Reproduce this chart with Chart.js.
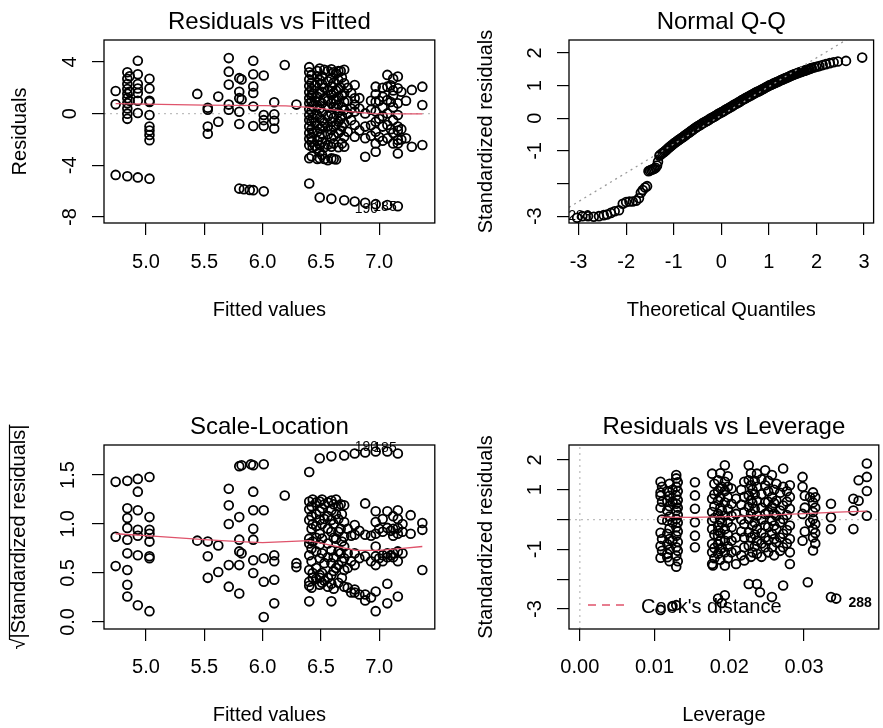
<!DOCTYPE html>
<html>
<head>
  <meta charset="utf-8">
  <title>Diagnostic plots</title>
  <style>
    html, body { margin: 0; padding: 0; background: #fff; overflow: hidden; }
    #wrap { position: relative; width: 883px; height: 728px; overflow: hidden; }
    canvas { position: absolute; }
  </style>
</head>
<body>
<div id="wrap">
  <canvas id="rvf" width="441" height="364" style="left:0;top:0"></canvas>
  <canvas id="qq" width="444" height="364" style="left:441px;top:0"></canvas>
  <canvas id="sl" width="441" height="364" style="left:0;top:364px"></canvas>
  <canvas id="rvl" width="444" height="364" style="left:441px;top:364px"></canvas>
</div>

<script src="https://cdn.jsdelivr.net/npm/chart.js"></script>
<script>
// ---- data ----
// Residuals vs Fitted: [fitted, residual]
const rvfPoints = [
  [4.74,1.75],[4.74,0.72],[4.74,-4.74],
  [4.84,3.2],[4.84,2.7],[4.84,2.3],[4.84,1.9],[4.84,1.55],[4.84,1.2],[4.84,0.8],[4.84,0.4],[4.84,0.0],[4.84,-0.4],[4.84,-4.84],
  [4.86,2.9],[4.86,1.7],[4.86,1.0],
  [4.93,4.1],[4.93,3.05],[4.93,2.3],[4.93,1.95],[4.93,1.6],[4.93,1.0],[4.93,0.05],[4.93,-4.93],
  [5.03,2.7],[5.03,1.95],[5.03,1.0],[5.03,0.9],[5.03,-0.1],[5.03,-1.0],[5.03,-1.3],[5.03,-1.65],[5.03,-2.05],[5.03,-5.03],
  [5.44,1.53],[5.53,0.46],[5.53,0.3],[5.53,-1.0],[5.53,-1.55],[5.62,1.32],[5.62,-0.62],
  [5.71,4.3],[5.71,3.25],[5.71,2.25],[5.71,0.7],[5.71,0.3],
  [5.80,2.75],[5.80,1.7],[5.80,1.2],[5.80,0.15],[5.80,-0.8],[5.80,-5.8],[5.82,2.65],[5.82,1.1],[5.84,-5.85],
  [5.92,4.1],[5.92,3.05],[5.92,2.1],[5.92,1.6],[5.92,0.55],[5.92,-0.95],[5.92,-5.92],[5.89,-5.9],
  [6.01,2.95],[6.01,-0.1],[6.01,-0.5],[6.01,-0.95],[6.01,-6.01],
  [6.10,0.88],[6.10,-0.05],[6.10,-0.55],[6.10,-1.15],
  [6.19,3.77],[6.29,0.7],
  [6.40,3.6],[6.40,3.2],[6.40,2.65],[6.40,2.15],[6.40,1.65],[6.40,1.2],[6.40,0.8],[6.40,0.35],[6.40,-0.1],[6.40,-0.5],[6.40,-1.0],[6.40,-1.5],[6.40,-1.95],[6.40,-2.45],[6.40,-3.45],[6.40,-5.4],
  [6.42,3.0],[6.42,2.4],[6.42,1.9],[6.42,1.4],[6.42,0.9],[6.42,0.2],[6.42,-0.6],[6.42,-1.2],[6.42,-1.8],[6.42,-2.2],[6.42,-3.3],
  [6.43,1.55],[6.43,0.6],[6.43,-0.3],[6.43,-1.45],[6.43,-2.6],
  [6.45,2.2],[6.45,-0.7],[6.45,-2.5],[6.45,1.0],
  [6.47,3.3],[6.47,2.9],[6.47,2.4],[6.47,1.3],[6.47,0.6],[6.47,-0.1],[6.47,-0.9],[6.47,-1.4],[6.47,-2.1],[6.47,-2.7],[6.47,-3.5],
  [6.49,3.5],[6.49,2.6],[6.49,1.55],[6.49,0.95],[6.49,0.4],[6.49,-0.35],[6.49,-1.15],[6.49,-1.8],[6.49,-2.45],[6.49,-2.95],[6.49,-3.45],[6.49,-6.49],
  [6.51,2.9],[6.51,2.3],[6.51,1.7],[6.51,0.8],[6.51,0.1],[6.51,-0.5],[6.51,-1.0],[6.51,-1.6],[6.51,-2.2],[6.51,-3.2],
  [6.53,3.4],[6.53,2.0],[6.53,1.2],[6.53,-0.7],[6.53,-2.6],[6.53,-3.5],
  [6.56,3.3],[6.56,2.5],[6.56,1.8],[6.56,1.0],[6.56,0.5],[6.56,-0.2],[6.56,-1.0],[6.56,-1.6],[6.56,-2.4],[6.56,-3.6],
  [6.59,3.43],[6.59,2.74],[6.59,2.09],[6.59,1.45],[6.59,0.8],[6.59,0.02],[6.59,-0.62],[6.59,-1.26],[6.59,-1.91],[6.59,-2.56],[6.59,-3.46],[6.59,-6.59],
  [6.61,3.2],[6.61,2.4],[6.61,1.6],[6.61,1.1],[6.61,0.5],[6.61,-0.3],[6.61,-1.0],[6.61,-1.7],[6.61,-2.3],[6.61,-3.5],
  [6.63,3.1],[6.63,1.8],[6.63,1.1],[6.63,0.4],[6.63,-0.9],[6.63,-3.55],
  [6.65,3.3],[6.65,2.6],[6.65,1.9],[6.65,1.3],[6.65,0.7],[6.65,0.1],[6.65,-0.6],[6.65,-1.5],[6.65,-2.6],
  [6.67,3.3],[6.67,2.0],[6.67,-0.4],[6.67,-1.3],
  [6.68,2.8],[6.68,1.4],[6.68,0.5],[6.68,-0.2],[6.68,-1.0],[6.68,-2.3],
  [6.70,3.39],[6.70,2.35],[6.70,1.6],[6.70,0.93],[6.70,0.29],[6.70,-0.75],[6.70,-1.78],[6.70,-2.56],[6.70,-6.7],
  [6.73,2.0],[6.73,1.0],[6.73,0.0],[6.73,-1.4],
  [6.76,1.6],[6.76,0.4],[6.76,-0.5],
  [6.79,2.22],[6.79,1.19],[6.79,0.7],[6.79,0.16],[6.79,-0.88],[6.79,-1.78],[6.79,-6.8],
  [6.83,1.2],[6.83,0.4],[6.83,-1.3],
  [6.88,0.02],[6.88,-1.0],[6.88,-1.9],[6.88,-3.33],[6.88,-6.9],
  [6.93,1.0],[6.93,0.3],[6.93,-0.9],[6.93,-1.7],
  [6.97,2.09],[6.97,1.5],[6.97,0.93],[6.97,0.16],[6.97,-0.62],[6.97,-1.4],[6.97,-2.3],[6.97,-2.95],[6.97,-7.0],
  [7.0,1.0],[7.0,-0.4],[7.0,-1.8],
  [7.03,2.0],[7.03,1.3],[7.03,0.5],[7.03,-0.2],[7.03,-1.0],[7.03,-2.1],
  [7.07,3.0],[7.07,2.09],[7.07,1.06],[7.07,0.02],[7.07,-0.88],[7.07,-1.91],[7.07,-7.07],
  [7.10,2.2],[7.10,0.9],[7.10,-1.2],
  [7.12,2.7],[7.12,1.8],[7.12,1.4],[7.12,0.5],[7.12,-0.5],[7.12,-1.5],[7.12,-2.3],
  [7.16,2.87],[7.16,1.96],[7.16,0.8],[7.16,-0.1],[7.16,-1.0],[7.16,-1.3],[7.16,-2.04],[7.16,-2.3],[7.16,-3.08],[7.16,-7.16],
  [7.19,1.7],[7.19,-1.2],[7.19,-2.0],[7.23,1.0],[7.23,-1.9],
  [7.28,1.84],[7.28,-2.56],[7.37,2.09],[7.37,0.67],[7.37,-2.43]
];
const rvfSmooth = [[4.74,0.78],[5.0,0.74],[5.5,0.66],[6.0,0.62],[6.2,0.6],[6.4,0.48],[6.6,0.3],[6.8,0.12],[6.95,0.0],[7.2,-0.02],[7.37,-0.02]];
const rvfZero = [[4.64,0],[7.48,0]];
const rvfIds = [[6.89,-7.36,'190'],[7.05,-7.22,'185']];

// Normal Q-Q: [theoretical quantile, standardized residual]
const qqPoints = [
  [-3.03,-3.05],[-2.92,-3.0],[-2.80,-3.0],[-2.68,-3.02],[-2.57,-3.0],[-2.47,-2.97],[-2.40,-2.95],[-2.32,-2.9],
  [-2.24,-2.85],[-2.15,-2.82],[-2.07,-2.62],[-2.00,-2.57],[-1.93,-2.55],[-1.86,-2.55],[-1.79,-2.53],[-1.73,-2.45],
  [-1.69,-2.28],[-1.65,-2.2],[-1.60,-2.12],[-1.56,-2.08],[-1.53,-1.62],[-1.50,-1.60],[-1.47,-1.58],[-1.44,-1.56],
  [-1.41,-1.55],[-1.38,-1.52],[-1.35,-1.45],[-1.33,-1.33],
  [-1.30,-1.15],[-1.28,-1.12],[-1.25,-1.09],[-1.23,-1.06],[-1.20,-1.03],[-1.18,-1.00],[-1.15,-0.97],[-1.13,-0.93],
  [-1.10,-0.90],[-1.08,-0.87],[-1.05,-0.84],[-1.03,-0.81],[-1.00,-0.78],[-0.98,-0.75],[-0.95,-0.73],[-0.93,-0.70],
  [-0.90,-0.67],[-0.88,-0.65],[-0.85,-0.62],[-0.83,-0.60],[-0.80,-0.57],[-0.78,-0.54],[-0.75,-0.52],[-0.73,-0.49],
  [-0.70,-0.46],[-0.68,-0.44],[-0.65,-0.41],[-0.63,-0.38],[-0.60,-0.36],[-0.58,-0.33],[-0.55,-0.30],[-0.53,-0.28],
  [-0.50,-0.25],[-0.48,-0.23],[-0.45,-0.21],[-0.43,-0.19],[-0.40,-0.16],[-0.38,-0.14],[-0.35,-0.12],[-0.33,-0.10],
  [-0.30,-0.08],[-0.28,-0.06],[-0.25,-0.04],[-0.23,-0.01],[-0.20,0.01],[-0.18,0.03],[-0.15,0.05],[-0.13,0.07],
  [-0.10,0.09],[-0.08,0.12],[-0.05,0.14],[-0.03,0.16],[0.00,0.18],[0.03,0.20],[0.05,0.22],[0.08,0.25],
  [0.10,0.27],[0.13,0.29],[0.15,0.31],[0.18,0.33],[0.20,0.35],[0.23,0.37],[0.25,0.40],[0.28,0.42],
  [0.30,0.44],[0.33,0.46],[0.35,0.48],[0.38,0.50],[0.40,0.52],[0.43,0.55],[0.45,0.57],[0.48,0.59],
  [0.50,0.61],[0.53,0.63],[0.55,0.65],[0.58,0.67],[0.60,0.69],[0.63,0.71],[0.65,0.73],[0.68,0.75],
  [0.70,0.77],[0.73,0.79],[0.75,0.81],[0.78,0.82],[0.80,0.84],[0.83,0.86],[0.85,0.88],[0.88,0.90],
  [0.90,0.92],[0.93,0.94],[0.95,0.96],[0.98,0.98],[1.00,1.00],[1.03,1.02],[1.05,1.03],[1.08,1.05],
  [1.10,1.07],[1.13,1.08],[1.15,1.10],[1.18,1.12],[1.20,1.13],[1.23,1.15],[1.25,1.17],[1.28,1.18],
  [1.30,1.20],[1.33,1.22],[1.35,1.23],[1.38,1.25],[1.40,1.26],[1.43,1.28],[1.45,1.30],[1.48,1.31],
  [1.50,1.33],[1.53,1.34],[1.55,1.36],[1.58,1.37],[1.60,1.38],[1.63,1.40],[1.65,1.41],[1.68,1.42],
  [1.70,1.44],[1.73,1.45],[1.75,1.46],[1.78,1.47],[1.80,1.49],[1.83,1.50],[1.85,1.51],[1.88,1.53],
  [1.90,1.54],[1.95,1.56],[2.00,1.58],[2.06,1.60],[2.13,1.63],[2.20,1.66],[2.28,1.69],[2.36,1.72],
  [2.45,1.74],[2.62,1.76],[2.96,1.86]
];
const qqLine = [[-3.2,-2.73],[3.2,2.91]];
const qqIds = [[-2.97,-3.0,'283']];

// Scale-Location: [fitted, sqrt|standardized residual|]
const slPoints = [
  [4.74,1.43],[4.74,0.87],[4.74,0.57],
  [4.84,1.44],[4.84,1.16],[4.84,1.06],[4.84,0.96],[4.84,0.84],[4.84,0.70],[4.84,0.53],[4.84,0.38],[4.84,0.26],
  [4.93,1.46],[4.93,1.33],[4.93,1.14],[4.93,0.94],[4.93,0.88],[4.93,0.68],[4.93,0.17],
  [5.03,1.48],[5.03,1.07],[5.03,0.94],[5.03,0.90],[5.03,0.82],[5.03,0.67],[5.03,0.65],[5.03,0.11],
  [5.44,0.83],[5.53,0.82],[5.53,0.67],[5.53,0.45],[5.62,0.78],[5.62,0.51],
  [5.71,1.36],[5.71,1.19],[5.71,1.0],[5.71,0.58],[5.71,0.36],
  [5.80,1.59],[5.80,1.07],[5.80,0.84],[5.80,0.72],[5.80,0.58],[5.80,0.29],[5.82,1.60],[5.82,0.70],
  [5.92,1.60],[5.90,1.61],[5.92,1.33],[5.92,1.14],[5.92,0.95],[5.92,0.84],[5.92,0.63],[5.92,0.50],
  [6.01,1.61],[6.01,1.14],[6.01,0.65],[6.01,0.41],[6.01,0.05],
  [6.10,0.68],[6.10,0.62],[6.10,0.43],[6.10,0.19],
  [6.19,1.29],[6.29,0.60],[6.29,0.56],
  [6.40,1.53],[6.40,1.23],[6.40,1.15],[6.40,1.04],[6.40,0.85],[6.40,0.80],[6.40,0.68],[6.40,0.53],[6.40,0.41],[6.40,0.37],[6.40,0.21],
  [6.42,1.18],[6.42,1.08],[6.42,0.95],[6.42,0.75],[6.42,0.62],[6.42,0.35],
  [6.43,1.25],[6.43,1.0],[6.43,0.82],[6.43,0.5],[6.43,0.45],
  [6.46,1.22],[6.46,1.10],[6.46,0.98],[6.46,0.86],[6.46,0.72],[6.46,0.55],[6.46,0.44],
  [6.49,1.67],[6.49,1.23],[6.49,1.13],[6.49,1.04],[6.49,0.90],[6.49,0.79],[6.49,0.65],[6.49,0.48],[6.49,0.45],[6.49,0.38],
  [6.51,1.25],[6.51,1.16],[6.51,1.00],[6.51,0.85],[6.51,0.70],[6.51,0.50],[6.51,0.40],
  [6.53,1.2],[6.53,1.05],[6.53,0.6],[6.53,0.42],
  [6.56,1.22],[6.56,1.08],[6.56,0.95],[6.56,0.80],[6.56,0.66],[6.56,0.45],[6.56,0.36],
  [6.59,1.69],[6.59,1.24],[6.59,1.14],[6.59,1.04],[6.59,0.92],[6.59,0.73],[6.59,0.60],[6.59,0.48],[6.59,0.39],[6.59,0.21],
  [6.61,1.20],[6.61,1.0],[6.61,0.86],[6.61,0.66],[6.61,0.52],[6.61,0.34],
  [6.63,1.25],[6.63,1.1],[6.63,0.85],[6.63,0.55],
  [6.65,1.18],[6.65,1.05],[6.65,0.92],[6.65,0.72],[6.65,0.58],[6.65,0.40],
  [6.67,1.2],[6.67,0.95],[6.67,0.7],
  [6.68,1.1],[6.68,0.82],[6.68,0.62],[6.68,0.45],
  [6.70,1.70],[6.70,1.19],[6.70,1.02],[6.70,0.87],[6.70,0.77],[6.70,0.65],[6.70,0.53],[6.70,0.36],
  [6.73,0.95],[6.73,0.70],[6.73,0.55],[6.73,0.35],
  [6.76,0.88],[6.76,0.62],[6.76,0.30],
  [6.79,1.72],[6.79,0.99],[6.79,0.89],[6.79,0.70],[6.79,0.58],[6.79,0.33],[6.79,0.30],
  [6.83,0.93],[6.83,0.65],[6.83,0.28],
  [6.88,1.73],[6.88,1.21],[6.88,0.89],[6.88,0.67],[6.88,0.28],[6.88,0.22],
  [6.93,0.88],[6.93,0.62],[6.93,0.25],
  [6.97,1.74],[6.97,1.13],[6.97,1.02],[6.97,0.90],[6.97,0.77],[6.97,0.67],[6.97,0.58],[6.97,0.31],[6.97,0.11],
  [7.0,0.95],[7.0,0.65],
  [7.03,1.05],[7.03,0.92],[7.03,0.68],[7.03,0.62],
  [7.07,1.74],[7.07,1.13],[7.07,0.96],[7.07,0.70],[7.07,0.66],[7.07,0.39],[7.07,0.19],
  [7.10,0.93],[7.10,0.68],
  [7.12,1.08],[7.12,0.95],[7.12,0.88],[7.12,0.70],[7.12,0.66],
  [7.16,1.72],[7.16,1.14],[7.16,1.05],[7.16,0.96],[7.16,0.90],[7.16,0.72],[7.16,0.62],[7.16,0.26],
  [7.20,1.0],[7.20,0.92],[7.20,0.70],
  [7.27,1.09],[7.27,0.90],[7.37,1.01],[7.37,0.94],[7.37,0.53]
];
const slSmooth = [[4.74,0.9],[5.0,0.88],[5.5,0.84],[5.8,0.82],[6.0,0.81],[6.2,0.82],[6.4,0.83],[6.6,0.78],[6.8,0.73],[7.0,0.73],[7.2,0.75],[7.37,0.77]];
const slIds = [[6.89,1.78,'190'],[7.05,1.77,'185']];

// Residuals vs Leverage: [leverage, standardized residual]
const rvlPoints = [
  [0.0108,1.27],[0.0108,0.91],[0.0108,0.80],[0.0108,0.40],[0.0108,-0.44],[0.0108,-0.89],[0.0108,-1.28],[0.0108,-3.03],
  [0.0110,1.1],[0.0110,0.6],[0.0110,0.0],[0.0110,-0.65],[0.0110,-1.05],
  [0.0117,0.96],[0.0117,0.63],[0.0117,0.30],[0.0117,-0.04],[0.0117,-0.48],[0.0117,-0.82],[0.0117,-1.15],[0.0117,-1.26],
  [0.0120,1.2],[0.0120,0.8],[0.0120,0.45],[0.0120,0.1],[0.0120,-0.3],[0.0120,-0.65],[0.0120,-1.0],[0.0120,-1.4],
  [0.0124,1.0],[0.0124,0.6],[0.0124,-0.1],[0.0124,-0.7],[0.0124,-2.9],
  [0.0129,1.49],[0.0129,1.38],[0.0129,1.10],[0.0129,0.81],[0.0129,0.53],[0.0129,0.30],[0.0129,0.02],[0.0129,-0.26],
  [0.0129,-0.54],[0.0129,-0.93],[0.0129,-1.21],[0.0129,-1.58],[0.0129,-2.87],
  [0.0131,1.25],[0.0131,0.95],[0.0131,0.65],[0.0131,0.4],[0.0131,0.15],[0.0131,-0.1],[0.0131,-0.4],[0.0131,-0.75],[0.0131,-1.05],[0.0131,-1.4],
  [0.0154,1.25],[0.0154,0.81],[0.0154,0.36],[0.0154,-0.09],[0.0154,-0.54],[0.0154,-0.93],
  [0.0177,1.54],[0.0177,0.70],[0.0177,0.25],[0.0177,-0.04],[0.0177,-0.32],[0.0177,-0.82],[0.0177,-1.10],[0.0177,-1.49],[0.0178,-1.54],
  [0.0180,1.2],[0.0180,0.85],[0.0180,0.45],[0.0180,0.05],[0.0180,-0.5],[0.0180,-0.95],[0.0180,-1.3],
  [0.0185,1.32],[0.0185,0.96],[0.0185,0.63],[0.0185,0.19],[0.0185,-0.20],[0.0185,-0.37],[0.0185,-0.54],[0.0185,-0.82],[0.0185,-1.15],[0.0185,-2.65],
  [0.0188,1.55],[0.0188,1.05],[0.0188,0.75],[0.0188,0.4],[0.0188,0.0],[0.0188,-0.45],[0.0188,-0.7],[0.0188,-1.0],[0.0188,-1.35],
  [0.0190,1.1],[0.0190,0.3],[0.0190,-0.1],[0.0190,-0.95],[0.0190,-2.8],
  [0.0194,1.82],[0.0194,1.27],[0.0194,0.96],[0.0194,0.57],[0.0194,0.13],[0.0194,-0.32],[0.0194,-0.71],[0.0194,-1.10],[0.0194,-1.54],[0.0194,-2.54],
  [0.0198,1.45],[0.0198,1.1],[0.0198,0.75],[0.0198,0.35],[0.0198,-0.1],[0.0198,-0.5],[0.0198,-0.9],[0.0198,-1.3],
  [0.0203,1.04],[0.0203,0.53],[0.0203,0.13],[0.0203,-0.26],[0.0203,-0.71],[0.0203,-1.10],
  [0.0209,0.70],[0.0209,0.19],[0.0209,-0.60],[0.0209,-1.04],[0.0209,-1.49],
  [0.0216,1.0],[0.0216,0.5],[0.0216,0.0],[0.0216,-0.4],[0.0216,-1.2],
  [0.0220,1.27],[0.0220,0.76],[0.0220,0.25],[0.0220,-0.15],[0.0220,-0.60],[0.0220,-0.93],[0.0220,-1.37],
  [0.0226,1.82],[0.0226,1.32],[0.0226,0.81],[0.0226,0.42],[0.0226,0.02],[0.0226,-0.43],[0.0226,-0.88],[0.0226,-2.16],
  [0.0229,1.55],[0.0229,1.15],[0.0229,0.65],[0.0229,0.2],[0.0229,-0.6],[0.0229,-1.25],
  [0.0231,1.0],[0.0231,0.55],[0.0231,-0.2],[0.0231,-1.1],
  [0.0234,1.3],[0.0234,0.85],[0.0234,0.35],[0.0234,-0.1],[0.0234,-0.5],[0.0234,-0.9],
  [0.0237,1.54],[0.0237,1.10],[0.0237,0.63],[0.0237,0.13],[0.0237,-0.32],[0.0237,-0.71],[0.0237,-1.15],[0.0237,-2.16],[0.0241,-2.44],
  [0.0243,1.35],[0.0243,0.85],[0.0243,0.4],[0.0243,0.0],[0.0243,-0.45],[0.0243,-0.8],[0.0243,-1.25],
  [0.0248,1.65],[0.0248,1.15],[0.0248,0.57],[0.0248,0.19],[0.0248,-0.20],[0.0248,-0.60],[0.0248,-0.93],
  [0.0252,1.3],[0.0252,0.95],[0.0252,0.6],[0.0252,0.25],[0.0252,-0.25],[0.0252,-0.7],[0.0252,-1.1],
  [0.0257,1.49],[0.0257,0.76],[0.0257,0.42],[0.0257,-0.04],[0.0257,-0.48],[0.0257,-0.93],[0.0257,-2.60],
  [0.0260,1.0],[0.0260,0.55],[0.0260,0.2],[0.0260,-0.2],[0.0260,-0.65],[0.0260,-1.2],
  [0.0263,1.20],[0.0263,0.63],[0.0263,0.13],[0.0263,-0.32],[0.0263,-0.76],
  [0.0268,0.9],[0.0268,0.3],[0.0268,-0.1],[0.0268,-0.6],[0.0268,-1.05],
  [0.0272,1.71],[0.0272,1.10],[0.0272,0.47],[0.0272,0.02],[0.0272,-0.48],[0.0272,-0.93],[0.0272,-2.21],
  [0.0277,0.95],[0.0277,0.6],[0.0277,0.15],[0.0277,-0.35],[0.0277,-0.8],
  [0.0281,1.15],[0.0281,0.76],[0.0281,0.36],[0.0281,-0.20],[0.0281,-0.65],[0.0281,-1.10],[0.0281,-1.49],
  [0.0298,1.43],[0.0298,1.10],[0.0298,0.19],[0.0298,-0.71],[0.0305,-2.10],
  [0.0301,0.8],[0.0301,0.4],[0.0301,-0.4],
  [0.0308,0.75],[0.0308,-0.1],
  [0.0312,0.91],[0.0312,0.57],[0.0312,0.25],[0.0312,0.02],[0.0312,-0.32],[0.0312,-0.60],[0.0312,-1.04],
  [0.0315,0.75],[0.0315,0.4],[0.0315,-0.15],[0.0315,-0.45],[0.0315,-0.8],
  [0.0336,0.53],[0.0336,0.08],[0.0336,-0.32],[0.0336,-2.60],[0.0343,-2.65],
  [0.0366,0.70],[0.0366,0.30],[0.0366,-0.32],[0.0373,1.32],[0.0373,0.63],
  [0.0384,1.88],[0.0384,1.43],[0.0384,0.96],[0.0384,0.13]
];
const rvlSmooth = [[0.0108,0.08],[0.015,0.07],[0.02,0.1],[0.025,0.15],[0.03,0.2],[0.0345,0.25],[0.0384,0.28]];
const rvlZeroH = [[-0.00145,0],[0.04,0]];
const rvlZeroV = [[0,-3.67],[0,2.5]];
const rvlIds = [[0.0375,-2.79,'288']];

// tick values
const fittedTicks = [5.0, 5.5, 6.0, 6.5, 7.0];
const residTicks = [-8, -4, 0, 4];
const qqXTicks = [-3, -2, -1, 0, 1, 2, 3];
const stdTicks = [-3, -2, -1, 0, 1, 2];
const qqHidden = [-2];
const slTicks = [0, 0.5, 1, 1.5];
const levTicks = [0, 0.01, 0.02, 0.03];
const rvlHidden = [0, -2];

// ---- drawing ----
const FONT = '"Liberation Sans", Arial, Helvetica, sans-serif';
const RED = '#DF536B';
const GREY = '#BEBEBE';

const toXY = arr => arr.map(p => ({ x: p[0], y: p[1] }));

function circles(arr) {
  return {
    data: toXY(arr), showLine: false, order: 2,
    pointRadius: 4.4, pointBorderWidth: 1.8,
    pointBorderColor: '#000', pointBackgroundColor: 'rgba(0,0,0,0)'
  };
}
function curve(arr, color, dash, order) {
  return {
    data: toXY(arr), showLine: true, order: order,
    borderColor: color, borderWidth: 1.3, borderDash: dash,
    pointRadius: 0, fill: false, tension: 0
  };
}

// box around the plot region, point ids, Cook's legend
const decor = {
  id: 'decor',
  afterDatasetsDraw(chart, args, opts) {
    const { ctx, chartArea: a, scales } = chart;
    ctx.save();
    ctx.strokeStyle = '#000';
    ctx.lineWidth = 1.3;
    ctx.strokeRect(a.left, a.top, a.right - a.left, a.bottom - a.top);
    ctx.fillStyle = '#000';
    ctx.textAlign = 'center';
    ctx.textBaseline = 'middle';
    (opts.ids || []).forEach(l => {
      ctx.font = (opts.boldIds ? 'bold ' : '') + '14px ' + FONT;
      ctx.fillText(l[2], scales.x.getPixelForValue(l[0]), scales.y.getPixelForValue(l[1]));
    });
    if (opts.cooks) {
      ctx.strokeStyle = RED;
      ctx.lineWidth = 1.3;
      ctx.setLineDash([8, 6]);
      ctx.beginPath();
      ctx.moveTo(a.left + 19, a.bottom - 24);
      ctx.lineTo(a.left + 57, a.bottom - 24);
      ctx.stroke();
      ctx.setLineDash([]);
      ctx.font = '20px ' + FONT;
      ctx.textAlign = 'left';
      ctx.fillText("Cook's distance", a.left + 72, a.bottom - 22);
    }
    if (opts.overline) {
      // bar of the square root sign over the rotated axis title
      ctx.font = '20px ' + FONT;
      const full = ctx.measureText(scales.y.options.title.text).width;
      const root = ctx.measureText('\u221A').width;
      const cy = (a.top + a.bottom) / 2;
      const cx = scales.y.left + 12 + scales.y.options.title.padding.top;
      ctx.strokeStyle = '#000';
      ctx.lineWidth = 1.2;
      ctx.beginPath();
      ctx.moveTo(cx - 9.5, cy + full / 2 - root + 1);
      ctx.lineTo(cx - 9.5, cy - full / 2);
      ctx.stroke();
    }
    ctx.restore();
  }
};

function panel(id, c) {
  const f20 = { family: FONT, size: 20 };
  const axisGrid = { drawOnChartArea: false, color: '#000', lineWidth: 1.2, tickLength: 12 };
  return new Chart(document.getElementById(id), {
    type: 'scatter',
    data: { datasets: c.datasets },
    options: {
      responsive: false,
      animation: false,
      events: [],
      layout: { padding: 0 },
      plugins: {
        legend: { display: false },
        tooltip: { enabled: false },
        title: {
          display: true, text: c.title, fullSize: false, color: '#000',
          font: { family: FONT, size: 24, weight: 'normal' },
          padding: { top: c.titleTop, bottom: 3.6 }
        },
        decor: c.decor || {}
      },
      scales: {
        x: {
          type: 'linear', min: c.xMin, max: c.xMax,
          afterBuildTicks: s => { s.ticks = c.xTicks.map(v => ({ value: v })); },
          afterFit: s => { s.height = c.xAxisH; },
          grid: axisGrid,
          border: { display: false },
          ticks: { color: '#000', font: f20, padding: c.xTickPad, maxRotation: 0, autoSkip: false, callback: c.xFmt },
          title: { display: true, text: c.xTitle, color: '#000', font: f20, padding: { top: 0, bottom: c.xTitlePad } }
        },
        y: {
          type: 'linear', min: c.yMin, max: c.yMax,
          afterBuildTicks: s => { s.ticks = c.yTicks.map(v => ({ value: v })); },
          afterFit: s => { s.width = c.yAxisW; },
          grid: axisGrid,
          border: { display: false },
          ticks: {
            color: '#000', font: f20, padding: c.yTickPad, minRotation: 90, maxRotation: 90,
            crossAlign: 'center', autoSkip: false, callback: c.yFmt
          },
          title: { display: true, text: c.yTitle, color: '#000', font: f20, padding: { top: c.yTitlePad, bottom: 0 } }
        }
      }
    },
    plugins: [decor]
  });
}

const oneDec = v => v.toFixed(1);
const intLab = hidden => v => hidden.includes(v) ? '' : String(v);

panel('rvf', {
  title: 'Residuals vs Fitted', titleTop: 7.6,
  datasets: [curve(rvfSmooth, RED, [], 0), circles(rvfPoints), curve(rvfZero, GREY, [2, 4], 3)],
  xMin: 4.64, xMax: 7.477, xTicks: fittedTicks, xFmt: oneDec, xAxisH: 141, xTickPad: 15,
  xTitle: 'Fitted values', xTitlePad: 42,
  yMin: -8.46, yMax: 5.70, yTicks: residTicks, yFmt: intLab([]), yAxisW: 104, yTickPad: 13,
  yTitle: 'Residuals', yTitlePad: 8,
  decor: { ids: rvfIds }
});

panel('qq', {
  title: 'Normal Q-Q', titleTop: 7.6,
  datasets: [curve(qqLine, '#9a9a9a', [2, 4], 0), circles(qqPoints)],
  xMin: -3.2, xMax: 3.2, xTicks: qqXTicks, xFmt: v => String(v), xAxisH: 141, xTickPad: 15,
  xTitle: 'Theoretical Quantiles', xTitlePad: 42,
  yMin: -3.21, yMax: 2.40, yTicks: stdTicks, yFmt: intLab(qqHidden), yAxisW: 128, yTickPad: 13,
  yTitle: 'Standardized residuals', yTitlePad: 33,
  decor: { ids: qqIds }
});

panel('sl', {
  title: 'Scale-Location', titleTop: 48.6,
  datasets: [curve(slSmooth, RED, [], 0), circles(slPoints)],
  xMin: 4.64, xMax: 7.477, xTicks: fittedTicks, xFmt: oneDec, xAxisH: 99, xTickPad: 14,
  xTitle: 'Fitted values', xTitlePad: 1,
  yMin: -0.072, yMax: 1.806, yTicks: slTicks, yFmt: oneDec, yAxisW: 104, yTickPad: 10,
  yTitle: '\u221A|Standardized residuals|', yTitlePad: 7,
  decor: { ids: slIds, overline: true }
});

panel('rvl', {
  title: 'Residuals vs Leverage', titleTop: 48.6,
  datasets: [curve(rvlSmooth, RED, [], 0), circles(rvlPoints), curve(rvlZeroH, GREY, [2, 4], 3), curve(rvlZeroV, GREY, [2, 4], 3)],
  xMin: -0.00145, xMax: 0.0400, xTicks: levTicks, xFmt: v => v.toFixed(2), xAxisH: 99, xTickPad: 14,
  xTitle: 'Leverage', xTitlePad: 1,
  yMin: -3.67, yMax: 2.50, yTicks: stdTicks, yFmt: intLab(rvlHidden), yAxisW: 128, yTickPad: 13,
  yTitle: 'Standardized residuals', yTitlePad: 33,
  decor: { ids: rvlIds, boldIds: true, cooks: true }
});
</script>
</body>
</html>
